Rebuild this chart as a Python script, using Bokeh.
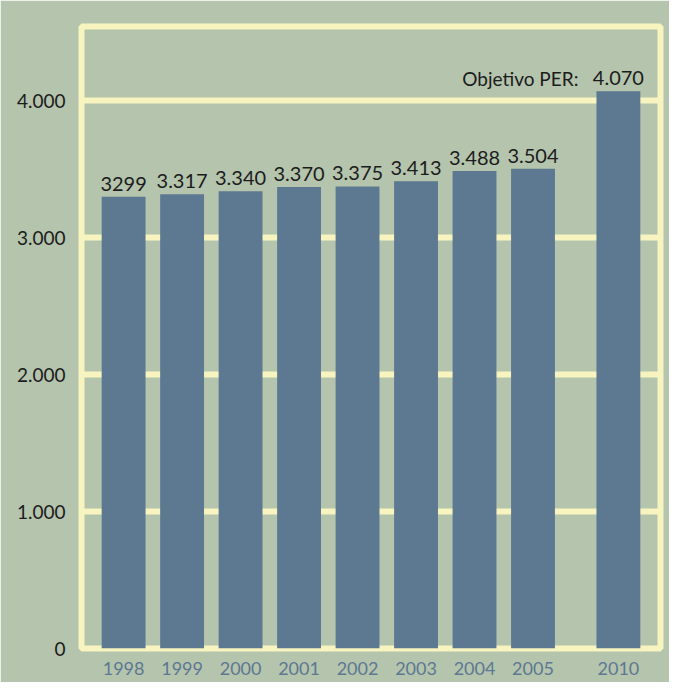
from bokeh.plotting import figure
from bokeh.models import FactorRange, Range1d, FixedTicker, ColumnDataSource
from bokeh.core.properties import value
from bokeh.embed import file_html
from bokeh.resources import INLINE

# ---- data ----
groups = ["", "", "", "", "", "", "", "", " "]
years = ["1998", "1999", "2000", "2001", "2002", "2003", "2004", "2005", "2010"]
values = [3299, 3317, 3340, 3370, 3375, 3413, 3488, 3504, 4070]
value_labels = ["3299", "3.317", "3.340", "3.370", "3.375", "3.413", "3.488", "3.504", "4.070"]
target_label = "Objetivo PER:"
y_ticks = [0, 1000, 2000, 3000, 4000]
y_tick_labels = ["0", "1.000", "2.000", "3.000", "4.000"]

# ---- style ----
BG = "#b4c4ad"
BAR = "#5d7891"
YEL = "#f8f4c0"
FONT = "Lato"
FS = "19px"

factors = list(zip(groups, years))
src = ColumnDataSource(dict(x=factors, v=values, lbl=value_labels))

x_range = FactorRange(*factors, group_padding=0.46, factor_padding=0.0,
                      range_padding=0.22, range_padding_units="absolute")

p = figure(width=669, height=682, x_range=x_range, y_range=Range1d(0, 4543),
           output_backend="svg", toolbar_location=None,
           min_border_left=81, min_border_right=9, min_border_top=26, min_border_bottom=34)

p.background_fill_color = BG
p.border_fill_color = BG
p.outline_line_color = YEL
p.outline_line_width = 6

p.xgrid.grid_line_color = None
p.ygrid.ticker = FixedTicker(ticks=y_ticks[1:])
p.ygrid.grid_line_color = YEL
p.ygrid.grid_line_width = 6
p.ygrid.grid_line_alpha = 1.0

p.vbar(x="x", top="v", width=0.75, bottom=0, source=src, fill_color=BAR, line_color=None)

p.text(x="x", y="v", text="lbl", source=src, text_align="center", text_baseline="alphabetic",
       y_offset=-13, text_font=value(FONT), text_font_size="20px", text_color="#1c1c1c")

p.text(x=[factors[-1]], y=[values[-1]], text=[target_label], text_align="right",
       text_baseline="alphabetic", x_offset=-40, y_offset=-13, text_font=value(FONT),
       text_font_size=FS, text_color="#1c1c1c")

# y axis
p.yaxis.ticker = FixedTicker(ticks=y_ticks)
p.yaxis.major_label_overrides = {t: l for t, l in zip(y_ticks, y_tick_labels)}
p.yaxis.axis_line_color = None
p.yaxis.major_tick_line_color = None
p.yaxis.minor_tick_line_color = None
p.yaxis.major_label_standoff = 10
p.yaxis.major_label_text_font = FONT
p.yaxis.major_label_text_font_size = FS
p.yaxis.major_label_text_color = "#1c1c1c"

# x axis
p.xaxis.axis_line_color = None
p.xaxis.major_tick_line_color = None
p.xaxis.minor_tick_line_color = None
p.xaxis.major_label_standoff = 7
p.xaxis.major_label_text_font = FONT
p.xaxis.major_label_text_font_size = "18px"
p.xaxis.major_label_text_color = BAR
p.xaxis.group_text_font_size = "0px"
p.xaxis.separator_line_color = None

open("out.html", "w").write(file_html(p, INLINE))
